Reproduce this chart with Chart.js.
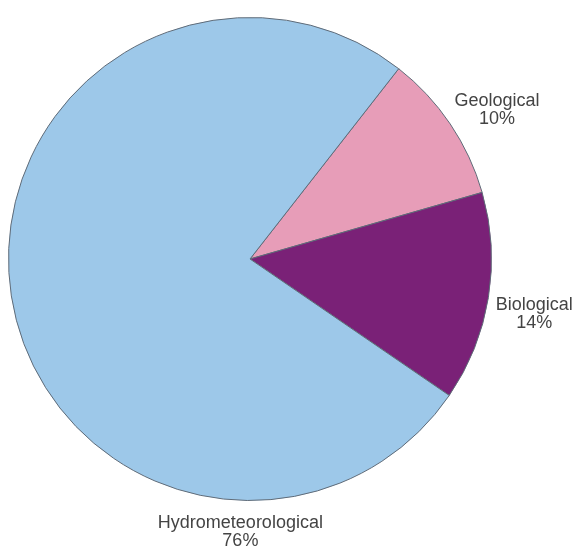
<!DOCTYPE html>
<html>
<head>
<meta charset="utf-8">
<script src="https://cdn.jsdelivr.net/npm/chart.js@4/dist/chart.umd.min.js"></script>
<style>
  html, body { margin: 0; padding: 0; background: #fff; }
  #wrap { width: 574px; height: 550px; position: relative; }
</style>
</head>
<body>
<div id="wrap"><canvas id="pieChart"></canvas></div>
<script>
// --- data ---
const categories = ['Geological', 'Biological', 'Hydrometeorological'];
const shares = [10, 14, 76];
const sliceColors = ['#e79db8', '#7a2177', '#9dc8e9'];

// labels sit outside the pie; the big slice gets its label under the pie
const labelPlugin = {
  id: 'outsideLabels',
  afterDatasetsDraw(chart, args, opts) {
    const ctx = chart.ctx;
    const arcs = chart.getDatasetMeta(0).data;
    ctx.save();
    ctx.font = '18px "Liberation Sans", Arial, sans-serif';
    ctx.fillStyle = '#444';
    ctx.textAlign = 'center';
    ctx.textBaseline = 'middle';
    arcs.forEach((arc, i) => {
      const p = arc.getProps(['x', 'y', 'startAngle', 'endAngle', 'outerRadius'], true);
      const a = (p.startAngle + p.endAngle) / 2 + opts.angleShift[i];
      const d = p.outerRadius + opts.gap[i];
      const x = p.x + Math.cos(a) * d;
      const y = p.y + Math.sin(a) * d;
      ctx.fillText(categories[i], x, y - 9);
      ctx.fillText(shares[i] + '%', x, y + 9);
    });
    ctx.restore();
  }
};

const ctx = document.getElementById('pieChart').getContext('2d');
new Chart(ctx, {
  type: 'pie',
  data: {
    labels: categories,
    datasets: [{
      data: shares,
      backgroundColor: sliceColors,
      borderColor: '#5f6b78',
      borderWidth: 1
    }]
  },
  options: {
    responsive: true,
    maintainAspectRatio: false,
    animation: false,
    rotation: 38,
    layout: { padding: { left: 8, right: 82, top: 17, bottom: 49 } },
    plugins: {
      legend: { display: false },
      tooltip: { enabled: false },
      outsideLabels: {
        angleShift: [0.05, 0.03, -1.382],
        gap: [47, 48, 32]
      }
    }
  },
  plugins: [labelPlugin]
});
</script>
</body>
</html>
